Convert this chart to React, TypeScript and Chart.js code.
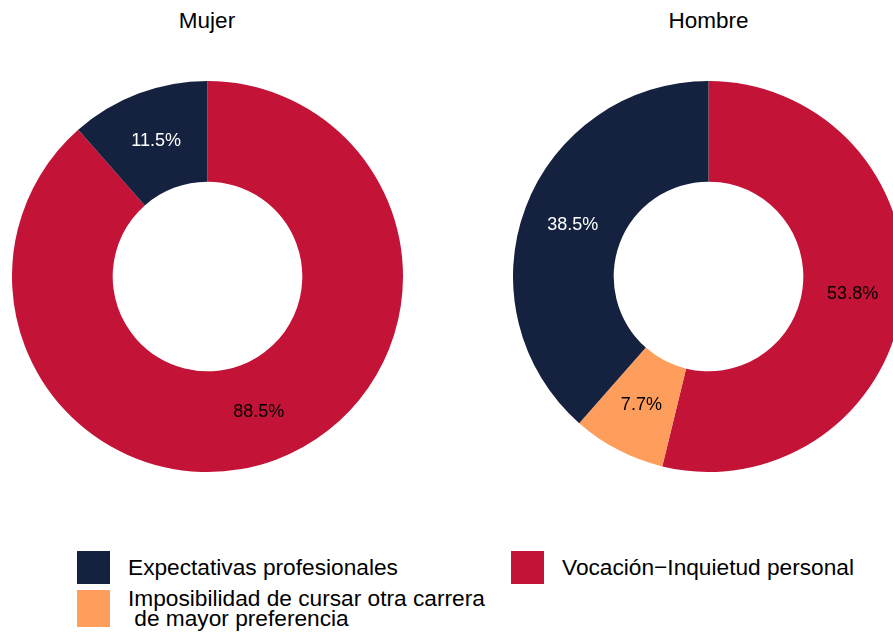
import React, { useEffect, useRef } from "react";
import { Chart, registerables } from "chart.js";

Chart.register(...registerables);

const categories = [
  "Expectativas profesionales",
  "Imposibilidad de cursar otra carrera\n de mayor preferencia",
  "Vocación−Inquietud personal",
];
const categoryColors = ["#14223F", "#FE9D5C", "#C31337"];
const labelColors = ["#FFFFFF", "#000000", "#000000"];

// Drawn clockwise from top: Vocación, Imposibilidad, Expectativas
const mujerOrder = [2, 1, 0];
const mujerValues = [88.5, 0, 11.5];
const hombreOrder = [2, 1, 0];
const hombreValues = [53.8, 7.7, 38.5];

const panelTitles = ["Mujer", "Hombre"];

const FONT = "'Liberation Sans', Arial, Helvetica, sans-serif";

const labelPlugin = {
  id: "arcLabels",
  afterDatasetsDraw(chart: any) {
    const ctx = chart.ctx;
    const meta = chart.getDatasetMeta(0);
    const ds = chart.data.datasets[0];
    meta.data.forEach((arc: any, i: number) => {
      const v = ds.data[i];
      if (!v) return;
      const p = arc.getProps(["x", "y", "startAngle", "endAngle", "innerRadius", "outerRadius"], true);
      const mid = (p.startAngle + p.endAngle) / 2;
      const r = (p.innerRadius + p.outerRadius) / 2;
      const x = p.x + Math.cos(mid) * r;
      const y = p.y + Math.sin(mid) * r;
      ctx.save();
      ctx.font = `18px ${FONT}`;
      ctx.textAlign = "center";
      ctx.textBaseline = "middle";
      ctx.fillStyle = ds.labelColors[i];
      ctx.fillText(v.toFixed(1) + "%", x, y);
      ctx.restore();
    });
  },
};

function Donut({ order, values, left }: { order: number[]; values: number[]; left: number }) {
  const ref = useRef<HTMLCanvasElement>(null);
  useEffect(() => {
    const chart = new Chart(ref.current!, {
      type: "doughnut",
      data: {
        labels: order.map((k) => categories[k]),
        datasets: [
          {
            data: values,
            backgroundColor: order.map((k) => categoryColors[k]),
            labelColors: order.map((k) => labelColors[k]),
            borderWidth: 0,
          } as any,
        ],
      },
      options: {
        animation: false,
        responsive: false,
        maintainAspectRatio: false,
        cutout: "48.5%",
        layout: { padding: 0 },
        plugins: { legend: { display: false }, tooltip: { enabled: false }, title: { display: false } },
      },
      plugins: [labelPlugin],
    });
    return () => chart.destroy();
  }, []);
  return (
    <canvas
      ref={ref}
      width={391}
      height={391}
      style={{ position: "absolute", left, top: 81, width: 391, height: 391 }}
    />
  );
}

const legendItems = [
  { k: 0, x: 77, y: 551, h: 33, ty: 557 },
  { k: 1, x: 77, y: 590, h: 37, ty: 588 },
  { k: 2, x: 511, y: 551, h: 33, ty: 557 },
];

export default function App() {
  return (
    <div
      style={{
        position: "fixed",
        left: 0,
        top: 0,
        width: 893,
        height: 633,
        overflow: "hidden",
        background: "#fff",
        fontFamily: FONT,
      }}
    >
      <Donut order={mujerOrder} values={mujerValues} left={11.5} />
      <Donut order={hombreOrder} values={hombreValues} left={513} />
      {panelTitles.map((t, i) => (
        <div
          key={t}
          style={{
            position: "absolute",
            left: i === 0 ? 107 : 608.5,
            width: 200,
            top: 8,
            textAlign: "center",
            fontSize: 22.5,
            lineHeight: "26px",
            color: "#000",
          }}
        >
          {t}
        </div>
      ))}
      {legendItems.map(({ k, x, y, h, ty }) => (
        <React.Fragment key={k}>
          <div
            style={{
              position: "absolute",
              left: x,
              top: y,
              width: 33,
              height: h,
              background: categoryColors[k],
            }}
          />
          <div
            style={{
              position: "absolute",
              left: x + 51,
              top: ty,
              fontSize: 22.7,
              lineHeight: "20px",
              whiteSpace: "pre",
              color: "#000",
            }}
          >
            {categories[k]}
          </div>
        </React.Fragment>
      ))}
    </div>
  );
}
